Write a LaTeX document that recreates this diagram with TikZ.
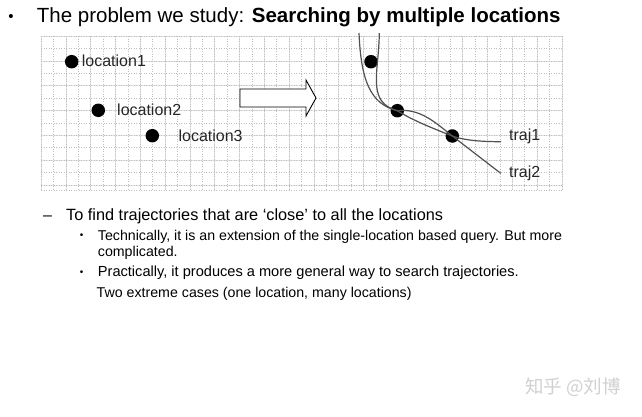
\documentclass[tikz,border=0pt]{standalone}
\usepackage{fontspec}
\setmainfont{Liberation Sans}
\newfontfamily\cjk{Noto Sans CJK SC}
\begin{document}
\begin{tikzpicture}[x=1pt,y=-1pt,
  dot/.style={circle,fill=black,inner sep=0pt,minimum size=13.5pt},
  lbl/.style={anchor=base west,inner sep=0pt,font=\fontsize{16}{18}\selectfont,text=black!85},
  traj/.style={draw=black!68,line width=1.2pt},
  txt/.style={anchor=base west,inner sep=0pt},
  minorline/.style={draw=black!25,line width=0.5pt,dotted},
  majorline/.style={draw=black!11,line width=0.6pt},
  blockarrow/.style={draw=black,line width=0.9pt,fill=white,line join=miter}]
\useasboundingbox[fill=white] (0,0) rectangle (642,416);
% grid
\foreach \i in {0,...,21}{
  \draw[majorline] ({41+\i*24.8},36) -- ({41+\i*24.8},190);
}
\foreach \i in {0,...,6}{
  \draw[majorline] (41,{36+\i*24.8}) -- (561.8,{36+\i*24.8});
}
\foreach \i in {0,...,42}{
  \draw[minorline] ({41+\i*12.4},36) -- ({41+\i*12.4},190);
}
\foreach \i in {0,...,12}{
  \draw[minorline] (41,{36+\i*12.4}) -- (561.8,{36+\i*12.4});
}
\draw[minorline] (41,190) -- (561.8,190);
% title
\node[font=\fontsize{15}{16}\selectfont] (b0) at (11,18) {•};
\node[txt,font=\fontsize{20.5}{24}\selectfont] (title) at (36.7,22.5)
  {The problem we study: \textbf{Searching by multiple locations}};
% locations
\node[dot] (l1) at (71.7,61.7) {};
\node[dot] (l2) at (98.3,110.3) {};
\node[dot] (l3) at (152.3,135.7) {};
\node[lbl] (t1) at (81.7,66.5) {location1};
\node[lbl] (t2) at (117,115.5) {location2};
\node[lbl] (t3) at (178.4,141) {location3};
% block arrow
\draw[blockarrow] (240,89) -- (306,89) -- (306,80) -- (316,98) -- (306,116) -- (306,107) -- (240,107) -- cycle;
% trajectories
\node[dot] (d1) at (371,61.7) {};
\node[dot] (d2) at (397.3,110.7) {};
\node[dot] (d3) at (452.3,136) {};
\coordinate (s1) at (359,33);
\coordinate (s2) at (379.3,33);
\coordinate (e1) at (501,141.7);
\coordinate (e2) at (500.7,173.3);
\draw[traj] (s1) .. controls (361,80) and (370,104) .. (d2.center)
  .. controls (420,108) and (436,123) .. (d3.center)
  .. controls (466,141) and (486,141.7) .. (e1);
\draw[traj] (s2) .. controls (379,72) and (366,102) .. (d2.center)
  .. controls (412,120) and (432,128) .. (d3.center) -- (e2);
\node[lbl] (tr1) at (509,140.5) {traj1};
\node[lbl] (tr2) at (509,177) {traj2};
% body text
\node[txt,font=\fontsize{16}{18}\selectfont] (dash) at (43,220) {–};
\node[txt,font=\fontsize{16.3}{18}\selectfont] (s1t) at (66,220)
  {To find trajectories that are ‘close’ to all the locations};
\node[font=\fontsize{10}{11}\selectfont] (b1) at (81.7,236.5) {•};
\node[txt,font=\fontsize{14.2}{16}\selectfont] (s2t) at (97.7,240.7)
  {Technically, it is an extension of the single-location based query. But more};
\node[txt,font=\fontsize{14.2}{16}\selectfont] (s2u) at (97.7,256.7) {complicated.};
\node[font=\fontsize{10}{11}\selectfont] (b2) at (81.7,273.5) {•};
\node[txt,font=\fontsize{14.6}{16}\selectfont] (s3t) at (97.7,276.3)
  {Practically, it produces a more general way to search trajectories.};
\node[txt,font=\fontsize{14.2}{16}\selectfont] (s4t) at (96.5,297.5)
  {Two extreme cases (one location, many locations)};
% watermark
\node[txt,font=\cjk\fontsize{18.5}{20}\selectfont,text=black!18] (wm) at (525,393) {知乎 @刘博};
\end{tikzpicture}
\end{document}
